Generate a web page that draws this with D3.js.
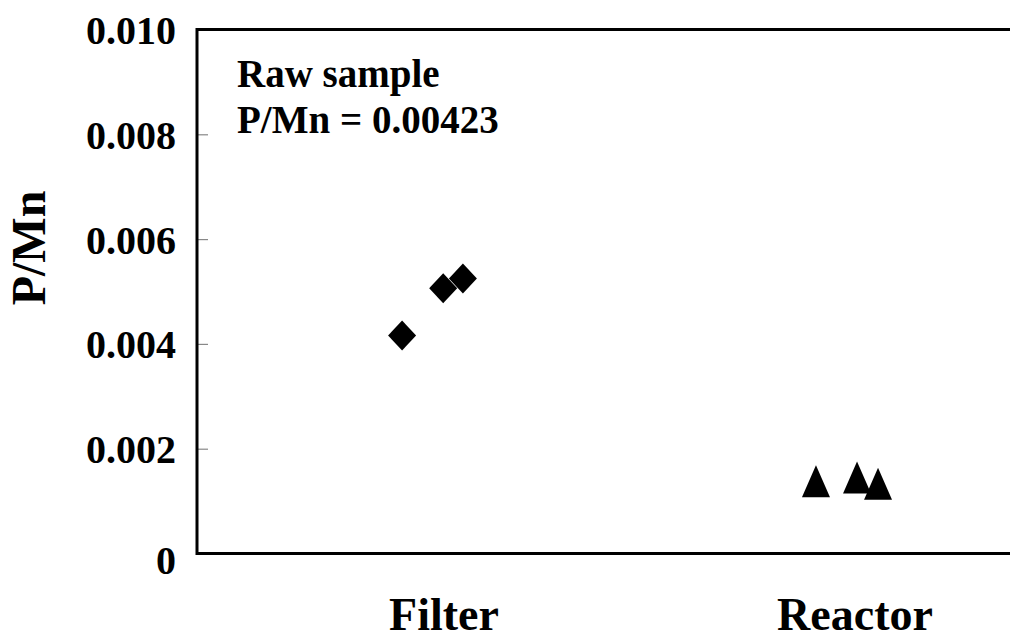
<!DOCTYPE html>
<html lang="en">
<head>
    <meta charset="UTF-8">
    <title>P/Mn scatter</title>
    <script src="https://d3js.org/d3.v7.min.js"></script>
    <style>
        body { margin: 0; background: #fff; }
        svg text {
            font-family: "Liberation Serif", "Times New Roman", serif !important;
            font-weight: bold;
            fill: #000;
        }
    </style>
</head>
<body>
    <div id="chart"></div>
    <script>
        // Data
        const categories = ["Filter", "Reactor"];
        const categoryPos = [1, 2];
        const filterX = [0.898, 0.998, 1.046];
        const filterY = [0.00416, 0.00506, 0.00525];
        const reactorX = [1.905, 2.005, 2.056];
        const reactorY = [0.00138, 0.00145, 0.00133];
        const yTicks = [0, 0.002, 0.004, 0.006, 0.008, 0.010];
        const noteLines = ["Raw sample", "P/Mn = 0.00423"];

        // Dimensions
        const width = 1010;
        const height = 639;
        const plotLeft = 197;
        const plotTop = 29.5;
        const plotBottom = 553.5;
        const serif = "'Liberation Serif', 'Times New Roman', serif";

        const svg = d3.select("#chart")
            .append("svg")
            .attr("width", width)
            .attr("height", height);

        // Scales
        const x = d3.scaleLinear().domain([1, 2]).range([444, 855]);
        const y = d3.scaleLinear().domain([0, 0.010]).range([plotBottom, plotTop]);

        // Y axis (inner ticks)
        const yAxis = d3.axisLeft(y)
            .tickValues(yTicks)
            .tickSizeInner(-11)
            .tickSizeOuter(0)
            .tickPadding(21)
            .tickFormat(d => d === 0 ? "0" : d.toFixed(3));

        const gy = svg.append("g")
            .attr("transform", `translate(${plotLeft},0)`)
            .attr("font-family", serif)
            .call(yAxis);
        gy.select(".domain").remove();
        gy.selectAll(".tick line").attr("stroke", "#888").attr("stroke-width", 1.2);
        gy.selectAll(".tick text")
            .attr("fill", "#000")
            .attr("dy", "0.35em")
            .style("font-size", "40px");
        gy.selectAll(".tick text").filter(d => d === 0).attr("dy", "0.5em");

        // Frame (right side runs off the picture)
        svg.append("path")
            .attr("d", `M${width + 20},${plotTop}H${plotLeft}V${plotBottom}H${width + 20}`)
            .attr("fill", "none")
            .attr("stroke", "#000")
            .attr("stroke-width", 3);

        // Category labels
        svg.selectAll(".cat")
            .data(categories)
            .join("text")
            .attr("class", "cat")
            .attr("x", (d, i) => x(categoryPos[i]))
            .attr("y", 630)
            .attr("text-anchor", "middle")
            .style("font-family", serif)
            .style("font-size", "46px")
            .text(d => d);

        // Y axis title
        svg.append("text")
            .attr("transform", "translate(45,248) rotate(-90)")
            .attr("text-anchor", "middle")
            .style("font-family", serif)
            .style("font-size", "48px")
            .text("P/Mn");

        // Note
        svg.selectAll(".note")
            .data(noteLines)
            .join("text")
            .attr("class", "note")
            .attr("x", 237)
            .attr("y", (d, i) => 87 + i * 46)
            .style("font-family", serif)
            .style("font-size", "39px")
            .text(d => d);

        // Markers
        const diamond = { draw(ctx) {
            ctx.moveTo(0, -15); ctx.lineTo(14, 0); ctx.lineTo(0, 15); ctx.lineTo(-14, 0); ctx.closePath();
        } };
        const triangle = { draw(ctx) {
            ctx.moveTo(0, -16); ctx.lineTo(14, 16); ctx.lineTo(-14, 16); ctx.closePath();
        } };

        svg.selectAll(".filter")
            .data(d3.zip(filterX, filterY))
            .join("path")
            .attr("class", "filter")
            .attr("transform", d => `translate(${x(d[0])},${y(d[1])})`)
            .attr("d", d3.symbol().type(diamond))
            .attr("fill", "#000");

        svg.selectAll(".reactor")
            .data(d3.zip(reactorX, reactorY))
            .join("path")
            .attr("class", "reactor")
            .attr("transform", d => `translate(${x(d[0])},${y(d[1])})`)
            .attr("d", d3.symbol().type(triangle))
            .attr("fill", "#000");
    </script>
</body>
</html>
